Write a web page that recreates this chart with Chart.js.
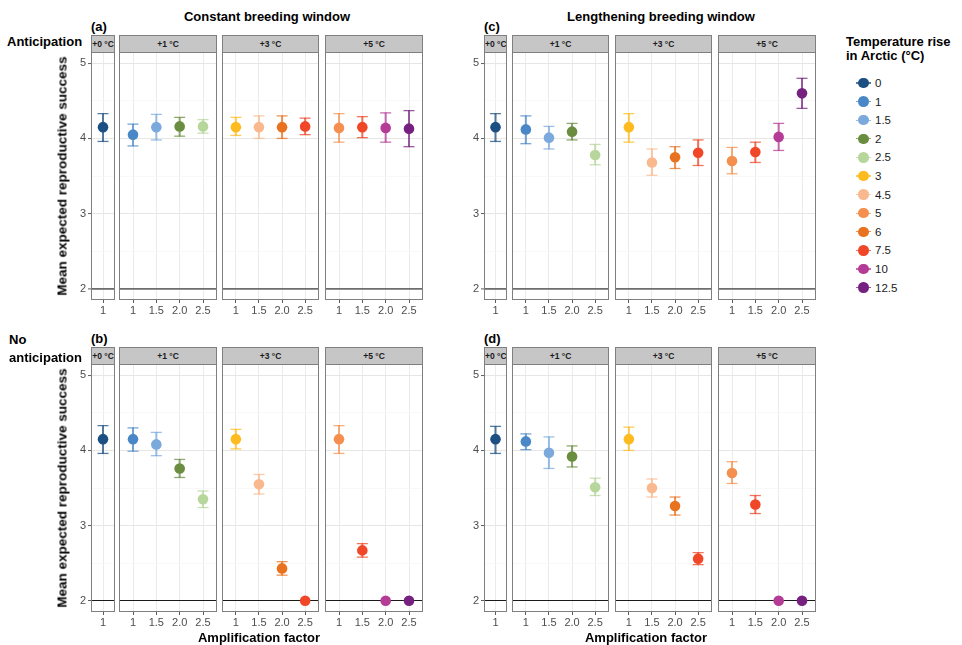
<!DOCTYPE html>
<html>
<head>
<meta charset="utf-8">
<script src="https://cdn.jsdelivr.net/npm/chart.js@4.4.0/dist/chart.umd.min.js"></script>
<style>
  body { margin: 0; background: #fff; font-family: "Liberation Sans", Arial, sans-serif; }
  #wrap { position: relative; width: 962px; height: 645px; overflow: hidden; }
  canvas { position: absolute; }
  .t { position: absolute; font-weight: bold; color: #000; white-space: nowrap; font-size: 13px; }
  .c { transform: translate(-50%, -50%); }
  .strip { position: absolute; background: #c6c6c6; border: 1px solid #7f7f7f; box-sizing: border-box;
           font-size: 8.5px; font-weight: bold; color: #1a1a1a; text-align: center; line-height: 16px; white-space: nowrap; overflow: hidden; }
  .lg { position: absolute; font-size: 11.5px; color: #1a1a1a; }
</style>
</head>
<body>
<div id="wrap"></div>
<script>
// facets and axis categories
const facetLabels = ['+0 °C', '+1 °C', '+3 °C', '+5 °C'];
const ampLabels = [['1'], ['1', '1.5', '2.0', '2.5'], ['1', '1.5', '2.0', '2.5'], ['1', '1.5', '2.0', '2.5']];
const facetTemps = [[0], [1, 1.5, 2, 2.5], [3, 4.5, 6, 7.5], [5, 7.5, 10, 12.5]];
const temps = [0, 1, 1.5, 2, 2.5, 3, 4.5, 5, 6, 7.5, 10, 12.5];
const tempColors = ['#1c4f82', '#4a87c7', '#7ba9dc', '#6a8d40', '#b6d69b', '#fdbb20',
                    '#f9b88e', '#f58f4f', '#e8721f', '#ef4727', '#b43b96', '#76217f'];
const yTicks = [2, 2.5, 3, 3.5, 4, 4.5, 5];
const refLine = 2;

// (a) anticipation, constant window
const meanA = [[4.15], [4.05, 4.15, 4.16, 4.16], [4.15, 4.15, 4.15, 4.16], [4.14, 4.15, 4.14, 4.13]];
const lowA  = [[3.96], [3.90, 3.98, 4.03, 4.07], [4.04, 4.00, 4.00, 4.05], [3.95, 4.01, 3.95, 3.89]];
const highA = [[4.33], [4.19, 4.32, 4.28, 4.25], [4.28, 4.30, 4.30, 4.27], [4.33, 4.29, 4.34, 4.37]];
// (b) no anticipation, constant window
const meanB = [[4.15], [4.15, 4.08, 3.76, 3.35], [4.15, 3.55, 2.43, 2.00], [4.15, 2.67, 2.00, 2.00]];
const lowB  = [[3.96], [3.99, 3.93, 3.64, 3.24], [4.02, 3.42, 2.34, null], [3.96, 2.58, null, null]];
const highB = [[4.33], [4.30, 4.24, 3.88, 3.46], [4.28, 3.68, 2.52, null], [4.33, 2.76, null, null]];
// (c) anticipation, lengthening window
const meanC = [[4.15], [4.12, 4.01, 4.09, 3.78], [4.15, 3.68, 3.75, 3.81], [3.70, 3.82, 4.02, 4.60]];
const lowC  = [[3.96], [3.93, 3.86, 3.98, 3.65], [3.95, 3.51, 3.60, 3.64], [3.53, 3.68, 3.84, 4.40]];
const highC = [[4.33], [4.30, 4.16, 4.20, 3.92], [4.33, 3.86, 3.89, 3.98], [3.88, 3.95, 4.20, 4.80]];
// (d) no anticipation, lengthening window
const meanD = [[4.15], [4.12, 3.97, 3.92, 3.51], [4.15, 3.50, 3.26, 2.56], [3.70, 3.28, 2.00, 2.00]];
const lowD  = [[3.96], [4.01, 3.76, 3.78, 3.40], [4.00, 3.38, 3.14, 2.48], [3.56, 3.16, null, null]];
const highD = [[4.32], [4.22, 4.18, 4.06, 3.63], [4.31, 3.62, 3.38, 2.64], [3.85, 3.40, null, null]];

const wrap = document.getElementById('wrap');
const FONT = '"Liberation Sans", Arial, sans-serif';

// layout
const rowTop = [52, 364];
const plotH = 248;
const colFacets = [
  { left: [91, 119, 222, 325], width: [24, 98, 97, 98] },
  { left: [484, 512, 615, 718], width: [23, 97, 97, 98] }
];
const panels = [
  { tag: '(a)', row: 0, col: 0, mean: meanA, lo: lowA, hi: highA },
  { tag: '(b)', row: 1, col: 0, mean: meanB, lo: lowB, hi: highB },
  { tag: '(c)', row: 0, col: 1, mean: meanC, lo: lowC, hi: highC },
  { tag: '(d)', row: 1, col: 1, mean: meanD, lo: lowD, hi: highD }
];

function fade(hex, a = 0.75) {
  const n = parseInt(hex.slice(1), 16);
  return `rgba(${n >> 16},${(n >> 8) & 255},${n & 255},${a})`;
}

function addText(txt, x, y, cls, style) {
  const d = document.createElement('div');
  d.className = cls;
  d.textContent = txt;
  d.style.left = x + 'px';
  d.style.top = y + 'px';
  if (style) Object.assign(d.style, style);
  wrap.appendChild(d);
  return d;
}

// panel border
const borderPlugin = {
  id: 'panelBorder',
  afterDraw(chart) {
    const a = chart.chartArea, ctx = chart.ctx;
    ctx.save();
    ctx.strokeStyle = '#7f7f7f';
    ctx.lineWidth = 1;
    ctx.strokeRect(a.left + 0.5, a.top + 0.5, a.right - a.left - 1, a.bottom - a.top - 1);
    ctx.restore();
  }
};

function makeFacet(p, f) {
  const x0 = colFacets[p.col].left[f], fw = colFacets[p.col].width[f];
  const y0 = rowTop[p.row];
  const yw = f === 0 ? 22 : 0;
  const cv = document.createElement('canvas');
  cv.width = fw + yw;
  cv.height = plotH + 22;
  cv.style.left = (x0 - yw) + 'px';
  cv.style.top = y0 + 'px';
  wrap.appendChild(cv);

  // strip
  const s = addText(facetLabels[f], x0, y0 - 17, 'strip');
  s.style.width = fw + 'px';
  s.style.height = '18px';

  const n = ampLabels[f].length;
  const idx = ampLabels[f].map((_, i) => i + 1);
  const cols = facetTemps[f].map(t => tempColors[temps.indexOf(t)]);
  const mean = p.mean[f], lo = p.lo[f], hi = p.hi[f];

  const whisk = [], whiskCols = [], caps = [], capCols = [];
  idx.forEach((x, i) => {
    if (lo[i] == null) return;
    whisk.push({ x, y: [lo[i], hi[i]] });
    whiskCols.push(fade(cols[i]));
    caps.push({ x, y: lo[i] }, { x, y: hi[i] });
    capCols.push(fade(cols[i]), fade(cols[i]));
  });

  const isRef = v => v === refLine;
  new Chart(cv, {
    type: 'scatter',
    data: {
      datasets: [
        { type: 'bar', data: whisk, backgroundColor: whiskCols, barThickness: 1.4, order: 2 },
        { data: caps, pointStyle: 'line', radius: 5.5, hoverRadius: 5.5, borderWidth: 1.3, borderColor: capCols, order: 1 },
        { data: idx.map((x, i) => ({ x, y: mean[i] })), radius: 5.3, hoverRadius: 5.3,
          backgroundColor: cols, borderWidth: 0, order: 0 }
      ]
    },
    options: {
      responsive: false,
      animation: false,
      events: [],
      layout: { padding: 0, autoPadding: false },
      plugins: { legend: { display: false }, tooltip: { enabled: false } },
      scales: {
        x: {
          type: 'linear', min: 0.4, max: n + 0.6, z: -1, offset: false,
          afterBuildTicks: sc => { sc.ticks = idx.map(v => ({ value: v })); },
          afterFit: sc => { sc.height = 22; sc.paddingLeft = 0; sc.paddingRight = 0; },
          ticks: { callback: v => ampLabels[f][v - 1], color: '#4d4d4d', font: { size: 11, family: FONT },
                   padding: 1, maxRotation: 0, autoSkip: false },
          grid: { offset: false, color: '#ebebeb', lineWidth: 1, tickLength: 3, tickColor: '#333', tickWidth: 0.8 },
          border: { display: false }
        },
        y: {
          type: 'linear', min: 1.85, max: 5.15, z: 0,
          afterBuildTicks: sc => { sc.ticks = yTicks.map(v => ({ value: v })); },
          afterFit: sc => { sc.width = yw; sc.paddingTop = 0; sc.paddingBottom = 0; },
          ticks: { display: yw > 0, callback: v => Number.isInteger(v) ? String(v) : '',
                   color: '#4d4d4d', font: { size: 11, family: FONT }, padding: 2 },
          grid: {
            drawTicks: yw > 0, tickLength: 3, tickWidth: 0.8,
            tickColor: c => Number.isInteger(c.tick.value) ? '#333' : 'rgba(0,0,0,0)',
            color: c => isRef(c.tick.value) ? (p.row === 0 ? '#6e6e6e' : '#1a1a1a')
                      : Number.isInteger(c.tick.value) ? '#e6e6e6' : '#f4f4f4',
            lineWidth: c => isRef(c.tick.value) ? (p.row === 0 ? 1.8 : 1)
                      : Number.isInteger(c.tick.value) ? 1.1 : 0.6
          },
          border: { display: false }
        }
      }
    },
    plugins: [borderPlugin]
  });
}

panels.forEach(p => {
  facetLabels.forEach((_, f) => makeFacet(p, f));
  const lx = colFacets[p.col].left[0];
  addText(p.tag, lx, rowTop[p.row] - 26, 't', { transform: 'translateY(-50%)' });
  if (p.col === 0) {
    addText('Mean expected reproductive success', 62, rowTop[p.row] + 124, 't',
      { transform: 'translate(-50%, -50%) rotate(-90deg)', fontSize: '13.5px' });
  }
  if (p.row === 1) {
    addText('Amplification factor', p.col === 0 ? 259 : 646, 637, 't c');
  }
});

addText('Constant breeding window', 267, 16, 't c');
addText('Lengthening breeding window', 661, 16, 't c');
addText('Anticipation', 7, 41, 't', { transform: 'translateY(-50%)' });
addText('No', 9, 339, 't', { transform: 'translateY(-50%)' });
addText('anticipation', 9, 357, 't', { transform: 'translateY(-50%)' });

// legend built from temps / colours
addText('Temperature rise', 846, 41, 't', { transform: 'translateY(-50%)' });
addText('in Arctic (°C)', 846, 55, 't', { transform: 'translateY(-50%)' });
temps.forEach((t, i) => {
  const cy = 83 + i * 18.6;
  const line = document.createElement('div');
  Object.assign(line.style, { position: 'absolute', left: '856px', top: (cy - 0.7) + 'px', width: '15px',
    height: '1.4px', background: fade(tempColors[i]) });
  wrap.appendChild(line);
  const dot = document.createElement('div');
  Object.assign(dot.style, { position: 'absolute', left: (863.5 - 5.3) + 'px', top: (cy - 5.3) + 'px',
    width: '10.6px', height: '10.6px', borderRadius: '50%', background: tempColors[i] });
  wrap.appendChild(dot);
  addText(String(t), 875, cy, 'lg', { transform: 'translateY(-50%)' });
});
</script>
</body>
</html>
